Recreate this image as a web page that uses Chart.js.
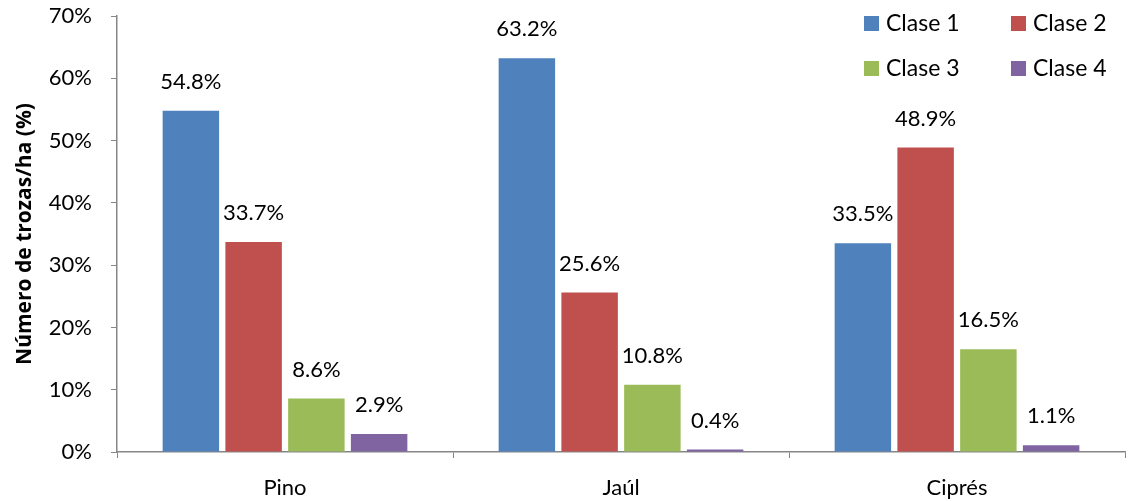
<!DOCTYPE html>
<html>
<head>
<meta charset="utf-8">
<script src="https://cdn.jsdelivr.net/npm/chart.js@4/dist/chart.umd.min.js"></script>
<style>
  html, body { margin: 0; padding: 0; background: #fff; }
  #wrap { width: 1128px; height: 501px; }
</style>
</head>
<body>
<div id="wrap"><canvas id="chart" width="1128" height="501"></canvas></div>
<script>
// categories and series (percent)
const species = ['Pino', 'Jaúl', 'Ciprés'];
const clase1 = [54.8, 63.2, 33.5];
const clase2 = [33.7, 25.6, 48.9];
const clase3 = [8.6, 10.8, 16.5];
const clase4 = [2.9, 0.4, 1.1];
const seriesNames = ['Clase 1', 'Clase 2', 'Clase 3', 'Clase 4'];
const seriesColors = ['#4F81BD', '#C0504D', '#9BBB59', '#8064A2'];
const yTicks = [0, 10, 20, 30, 40, 50, 60, 70];

const FONT = 'Lato, "Open Sans", sans-serif';
const axisGray = '#868686';

// labels above each bar
const valueLabels = {
  id: 'valueLabels',
  afterDatasetsDraw(chart) {
    const ctx = chart.ctx;
    ctx.save();
    ctx.font = '22px ' + FONT;
    ctx.fillStyle = '#000';
    ctx.textAlign = 'center';
    ctx.textBaseline = 'middle';
    chart.data.datasets.forEach((ds, i) => {
      chart.getDatasetMeta(i).data.forEach((bar, j) => {
        ctx.fillText(ds.data[j].toFixed(1) + '%', bar.x, bar.y - 29);
      });
    });
    ctx.restore();
  }
};

// 2x2 legend in the top right corner
const gridLegend = {
  id: 'gridLegend',
  afterDraw(chart) {
    const ctx = chart.ctx;
    ctx.save();
    ctx.font = '23px ' + FONT;
    ctx.textBaseline = 'middle';
    ctx.textAlign = 'left';
    chart.data.datasets.forEach((ds, i) => {
      const col = i % 2, row = Math.floor(i / 2);
      const x = 864 + col * 147;
      const y = 23 + row * 45;
      ctx.fillStyle = ds.backgroundColor;
      ctx.fillRect(x, y - 7, 15, 15);
      ctx.fillStyle = '#000';
      ctx.fillText(ds.label, x + 22, y + 1);
    });
    ctx.restore();
  }
};

const seriesData = [clase1, clase2, clase3, clase4];

new Chart(document.getElementById('chart'), {
  type: 'bar',
  data: {
    labels: species,
    datasets: seriesData.map((d, i) => ({
      label: seriesNames[i],
      data: d,
      backgroundColor: seriesColors[i],
      borderWidth: 0,
      categoryPercentage: 0.747,
      barPercentage: 0.9
    }))
  },
  options: {
    responsive: false,
    animation: false,
    layout: { padding: { top: 16, right: 3, left: 0, bottom: 0 } },
    plugins: {
      legend: { display: false },
      tooltip: { enabled: false }
    },
    scales: {
      x: {
        grid: {
          display: true,
          drawOnChartArea: false,
          drawTicks: true,
          tickLength: 6,
          color: axisGray,
          offset: true
        },
        border: { color: axisGray, width: 1.5 },
        ticks: { color: '#000', font: { family: FONT, size: 22 }, padding: 17 },
        afterFit(scale) {
          scale.height = 49;
          scale.paddingLeft = 0;
          scale.paddingRight = 0;
        }
      },
      y: {
        min: 0,
        max: 70,
        afterBuildTicks(scale) { scale.ticks = yTicks.map(v => ({ value: v })); },
        grid: {
          display: true,
          drawOnChartArea: false,
          drawTicks: true,
          tickLength: 6,
          color: axisGray
        },
        border: { color: axisGray, width: 1.5 },
        ticks: {
          color: '#000',
          font: { family: FONT, size: 22 },
          padding: 19,
          callback: v => v + '%'
        },
        title: {
          display: true,
          text: 'Número de trozas/ha (%)',
          color: '#000',
          font: { family: '"Open Sans", sans-serif', size: 21, weight: 'bold' },
          padding: { top: 12, bottom: 0 }
        },
        afterFit(scale) {
          scale.width = 117;
          scale.paddingTop = 0;
          scale.paddingBottom = 0;
        }
      }
    }
  },
  plugins: [valueLabels, gridLegend]
});
</script>
</body>
</html>
